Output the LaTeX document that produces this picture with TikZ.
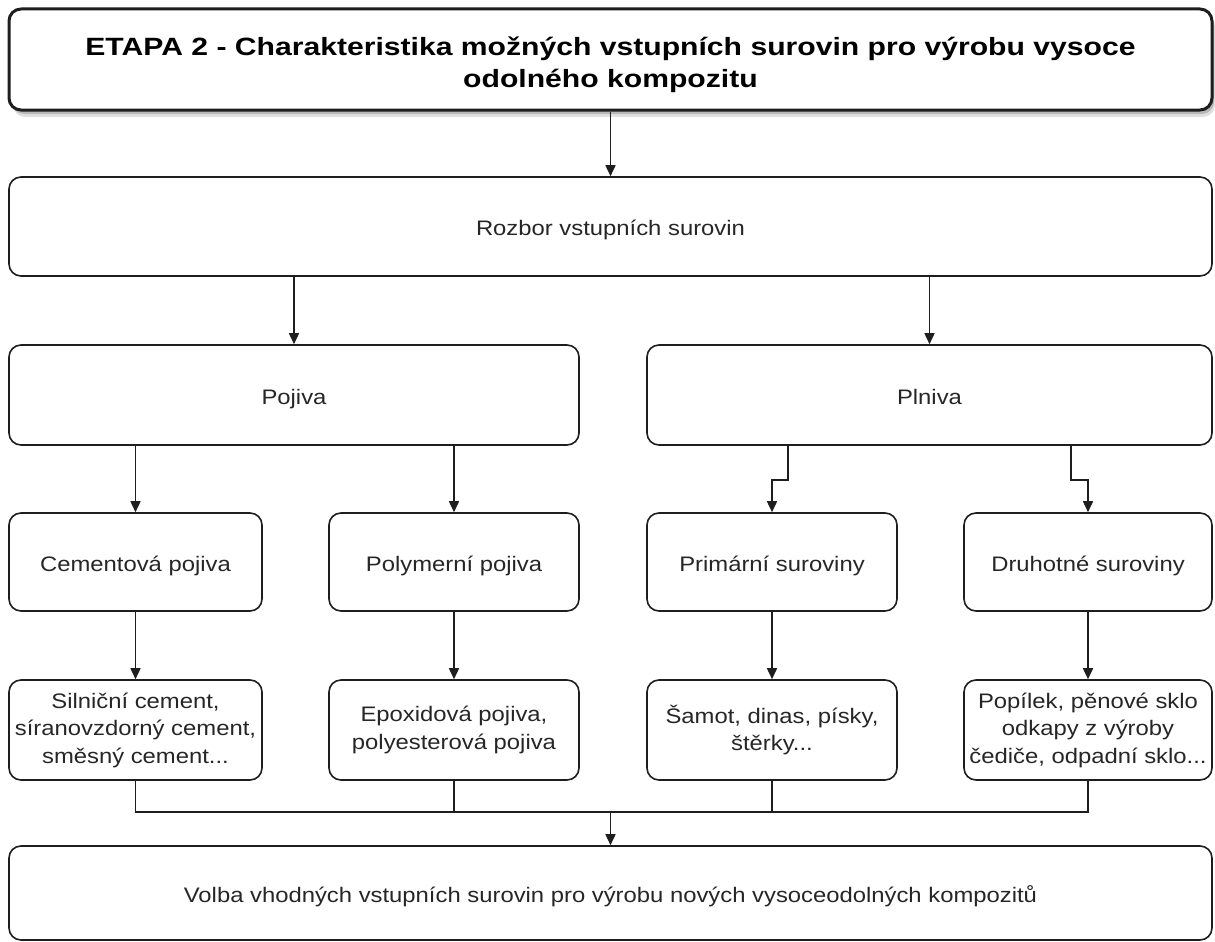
\documentclass[tikz,border=0pt]{standalone}
\usepackage{fontspec}
\setmainfont[FakeStretch=1.135]{Liberation Sans}
\newfontfamily\titlefont[FakeStretch=1.205]{Liberation Sans}
\usetikzlibrary{arrows.meta,calc}
\definecolor{txt}{HTML}{262626}
\definecolor{ln}{HTML}{1e1e1e}
\newcommand{\lowtext}[1]{\raisebox{-9pt}[0pt][0pt]{#1}}
\begin{document}
\begin{tikzpicture}[x=1pt,y=-1pt,
  box/.style={draw=ln, line width=1.6pt, rounded corners=12pt, fill=white, align=center,
    inner sep=0pt, text=txt, font=\fontsize{21}{27.5}\selectfont},
  titlebox/.style={box, line width=3pt, text=black,
    font=\titlefont\bfseries\fontsize{25}{32}\selectfont},
  conn/.style={draw=ln, line width=1.6pt},
  arr/.style={conn, -{Triangle[length=11pt,width=10pt]}}]
\useasboundingbox (0,0) rectangle (1215,942);
% shadow of title
\fill[black!12, rounded corners=12pt] (13,15) rectangle (1215,117);
\fill[black!28, rounded corners=12pt] (12,13) rectangle (1214,114);
\node[titlebox, minimum width=1203pt, minimum height=101pt] (title) at (610.5,59.5)
  {\raisebox{-12pt}[0pt][0pt]{\begin{tabular}{@{}c@{}}ETAPA 2 - Charakteristika možných vstupních surovin pro výrobu vysoce\\odolného kompozitu\end{tabular}}};
\node[box, minimum width=1203pt, minimum height=99pt] (rozbor) at (610.5,226.5) {\lowtext{Rozbor vstupních surovin}};
\node[box, minimum width=570pt, minimum height=100pt] (pojiva) at (294,395) {\lowtext{Pojiva}};
\node[box, minimum width=565pt, minimum height=100pt] (plniva) at (929.5,395) {\lowtext{Plniva}};
\node[box, minimum width=253pt, minimum height=98pt] (cem) at (135.5,562) {\lowtext{Cementová pojiva}};
\node[box, minimum width=250pt, minimum height=98pt] (poly) at (454,562) {\lowtext{Polymerní pojiva}};
\node[box, minimum width=250pt, minimum height=98pt] (prim) at (772,562) {\lowtext{Primární suroviny}};
\node[box, minimum width=248pt, minimum height=98pt] (druh) at (1088,562) {\lowtext{Druhotné suroviny}};
\node[box, minimum width=253pt, minimum height=100pt] (s1) at (135.5,730) {Silniční cement,\\síranovzdorný cement,\\směsný cement...};
\node[box, minimum width=250pt, minimum height=100pt] (s2) at (454,730) {Epoxidová pojiva,\\polyesterová pojiva};
\node[box, minimum width=250pt, minimum height=100pt] (s3) at (772,730) {Šamot, dinas, písky,\\štěrky...};
\node[box, minimum width=248pt, minimum height=100pt] (s4) at (1088,730) {Popílek, pěnové sklo\\odkapy z výroby\\čediče, odpadní sklo...};
\node[box, minimum width=1203pt, minimum height=94pt] (volba) at (610.5,893) {\lowtext{Volba vhodných vstupních surovin pro výrobu nových vysoceodolných kompozitů}};
% connectors
\draw[arr] (title.south) -- (rozbor.north);
\draw[arr] (rozbor.south -| pojiva.north) -- (pojiva.north);
\draw[arr] (rozbor.south -| plniva.north) -- (plniva.north);
\draw[arr] (pojiva.south -| cem.north) -- (cem.north);
\draw[arr] (pojiva.south -| poly.north) -- (poly.north);
\draw[arr] ($(plniva.south west)!0.25!(plniva.south east)$) -- ++(0,34) -| (prim.north);
\draw[arr] ($(plniva.south west)!0.75!(plniva.south east)$) -- ++(0,34) -| (druh.north);
\draw[arr] (cem.south) -- (s1.north);
\draw[arr] (poly.south) -- (s2.north);
\draw[arr] (prim.south) -- (s3.north);
\draw[arr] (druh.south) -- (s4.north);
\coordinate (bus) at ($(volba.north)+(0,-33)$);
\draw[conn] (s1.south) |- (bus);
\draw[conn] (s2.south) |- (bus);
\draw[conn] (s3.south) |- (bus);
\draw[conn] (s4.south) |- (bus);
\draw[arr] (bus) -- (volba.north);
\end{tikzpicture}
\end{document}
